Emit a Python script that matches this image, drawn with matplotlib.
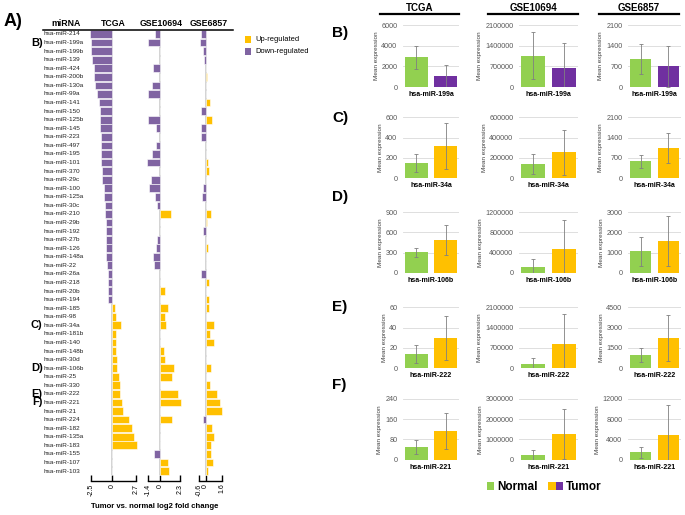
import matplotlib
matplotlib.use("Agg")
import matplotlib.pyplot as plt
from matplotlib.patches import Rectangle
from matplotlib.lines import Line2D
from matplotlib.transforms import blended_transform_factory

plt.rcParams["font.family"] = ["Liberation Sans", "DejaVu Sans"]

# ---- panel A: log2 fold changes ----
MIRNAS = ["hsa-miR-214", "hsa-miR-199a", "hsa-miR-199b", "hsa-miR-139", "hsa-miR-424",
          "hsa-miR-200b", "hsa-miR-130a", "hsa-miR-99a", "hsa-miR-141", "hsa-miR-150",
          "hsa-miR-125b", "hsa-miR-145", "hsa-miR-223", "hsa-miR-497", "hsa-miR-195",
          "hsa-miR-101", "hsa-miR-370", "hsa-miR-29c", "hsa-miR-100", "hsa-miR-125a",
          "hsa-miR-30c", "hsa-miR-210", "hsa-miR-29b", "hsa-miR-192", "hsa-miR-27b",
          "hsa-miR-126", "hsa-miR-148a", "hsa-miR-22", "hsa-miR-26a", "hsa-miR-218",
          "hsa-miR-20b", "hsa-miR-194", "hsa-miR-185", "hsa-miR-98", "hsa-miR-34a",
          "hsa-miR-181b", "hsa-miR-140", "hsa-miR-148b", "hsa-miR-30d", "hsa-miR-106b",
          "hsa-miR-25", "hsa-miR-330", "hsa-miR-222", "hsa-miR-221", "hsa-miR-21",
          "hsa-miR-224", "hsa-miR-182", "hsa-miR-135a", "hsa-miR-183", "hsa-miR-155",
          "hsa-miR-107", "hsa-miR-103"]

TCGA_FC = [-2.55, -2.43, -2.43, -2.32, -2.16, -2.09, -2.05, -1.82, -1.59, -1.41,
           -1.41, -1.41, -1.37, -1.33, -1.33, -1.30, -1.26, -1.18, -0.95, -0.92,
           -0.88, -0.84, -0.76, -0.72, -0.72, -0.72, -0.72, -0.65, -0.57, -0.57,
           -0.57, -0.50, 0.30, 0.37, 0.94, 0.37, 0.41, 0.41, 0.49, 0.57,
           0.72, 0.83, 0.91, 1.14, 1.25, 1.93, 2.27, 2.50, 2.76, 0.0,
           0.0, 0.0]
GSE10694_FC = [-0.57, -1.38, 0.0, 0.0, -0.77, 0.0, -0.95, -1.38, 0.0, 0.0,
               -1.38, -0.46, 0.0, -0.50, -0.95, -1.49, 0.0, -1.07, -1.26, -0.54,
               -0.38, 1.23, 0.0, 0.0, -0.31, -0.42, -0.77, -0.69, 0.0, 0.0,
               0.57, 0.0, 0.92, 0.57, 0.69, 0.0, 0.0, 0.42, 0.54, 1.65,
               1.42, 0.0, 2.10, 2.38, 0.0, 1.38, 0.0, 0.0, 0.0, -0.69,
               0.92, 1.03]
GSE6857_FC = [-0.45, -0.56, -0.26, -0.15, 0.0, 0.11, 0.0, 0.0, 0.45, -0.45,
              0.60, -0.45, -0.45, 0.0, 0.0, 0.26, 0.34, 0.0, -0.26, -0.37,
              0.0, 0.48, 0.15, -0.26, 0.0, 0.22, 0.0, 0.0, -0.41, 0.34,
              0.0, 0.34, 0.34, 0.0, 0.79, 0.41, 0.79, 0.0, 0.0, 0.48,
              0.0, 0.41, 1.05, 1.35, 1.60, -0.22, 0.64, 0.79, 0.48, 0.48,
              0.71, 0.22]
DATASETS = ["TCGA", "GSE10694", "GSE6857"]
FC_LIMITS = [(-2.5, 2.7), (-1.4, 2.3), (-0.6, 1.6)]
FC_TICKLABELS = [["-2.5", "0", "2.7"], ["-1.4", "0", "2.3"], ["-0.6", "0", "1.6"]]

# ---- panels B-F: mean expression ----
PANEL_LETTERS = ["B)", "C)", "D)", "E)", "F)"]
PANEL_MIRNAS = ["hsa-miR-199a", "hsa-miR-34a", "hsa-miR-106b", "hsa-miR-222", "hsa-miR-221"]
NORMAL_MEAN = [[2856, 1056000, 955], [151, 141000, 588], [303, 119000, 1066],
               [14.1, 149000, 984], [48.5, 213000, 1508]]
NORMAL_SD = [[1120, 790000, 516], [85, 102000, 220], [67, 160000, 720],
             [8.7, 195000, 550], [28, 260000, 1080]]
TUMOR_MEAN = [[1027, 640000, 696], [318, 256000, 1038], [487, 477000, 1574],
              [29.8, 826000, 2238], [114, 1260000, 4918]]
TUMOR_SD = [[1090, 840000, 696], [222, 220000, 514], [228, 565000, 1240],
            [21.3, 1030000, 1700], [71, 1250000, 5900]]
Y_MAX = [[6000, 2100000, 2100], [600, 600000, 2100], [900, 1200000, 3000],
         [60, 2100000, 4500], [240, 3000000, 12000]]
Y_STEP = [[2000, 700000, 700], [200, 200000, 700], [300, 400000, 1000],
          [20, 700000, 1500], [80, 1000000, 4000]]

UP = "#FFC000"
DOWN = "#8064A2"
DOWN_DARK = "#7030A0"
GREEN = "#92D050"

W, H = 685, 515
fig = plt.figure(figsize=(W / 100, H / 100), dpi=100)


def add_ax(x0, y0, x1, y1):
    return fig.add_axes([x0 / W, 1 - y1 / H, (x1 - x0) / W, (y1 - y0) / H])


def fig_line(x0, x1, y, lw):
    fig.add_artist(Line2D([x0 / W, x1 / W], [1 - y / H, 1 - y / H],
                          color="black", lw=lw, transform=fig.transFigure))


def fig_box(x0, y0, x1, y1, color):
    fig.add_artist(Rectangle((x0 / W, 1 - y1 / H), (x1 - x0) / W, (y1 - y0) / H,
                             color=color, transform=fig.transFigure, lw=0))


# ---------------- panel A ----------------
fc_boxes = [(90.7, 136), (147.7, 180), (199.3, 222.3)]
rows = list(range(len(MIRNAS)))
axes_a = []
for vals, lim, tl, (x0, x1) in zip([TCGA_FC, GSE10694_FC, GSE6857_FC],
                                   FC_LIMITS, FC_TICKLABELS, fc_boxes):
    ax = add_ax(x0, 29.7, x1, 475.3)
    for s in ["top", "right", "left"]:
        ax.spines[s].set_visible(False)
    ax.spines["bottom"].set_position(("outward", 4))
    ax.spines["bottom"].set_linewidth(1)
    cols = [UP if v > 0 else DOWN for v in vals]
    ax.barh(rows, vals, height=0.9, color=cols, edgecolor="white",
            linewidth=0.4, clip_on=False, zorder=2)
    ax.axvline(0, color="#C8C8C8", lw=1.1, zorder=1)
    ax.set_xlim(lim)
    ax.set_ylim(len(MIRNAS) - 0.5, -0.5)
    ax.set_xticks([lim[0], 0, lim[1]])
    ax.set_xticklabels(tl)
    ax.tick_params(axis="x", direction="in", length=4, width=1, pad=2,
                   labelrotation=90, labelsize=5)
    ax.set_yticks([])
    ax.patch.set_alpha(0)
    axes_a.append(ax)

trans = blended_transform_factory(fig.transFigure, axes_a[0].transData)
for i, name in enumerate(MIRNAS):
    axes_a[0].text(44 / W, i, name, transform=trans, ha="left", va="center",
                   fontsize=4.6, color="#222222")
for letter, name in zip(PANEL_LETTERS, PANEL_MIRNAS):
    axes_a[0].text(42.5 / W, MIRNAS.index(name), letter, transform=trans,
                   ha="right", va="center", fontsize=8, fontweight="bold")

fig.text(4 / W, 1 - 22 / H, "A)", fontsize=13, fontweight="bold", va="center")
for txt, xc in zip(["miRNA"] + DATASETS, [66, 113, 161, 209]):
    fig.text(xc / W, 1 - 24 / H, txt, fontsize=6.3, fontweight="bold",
             ha="center", va="center")
fig_line(43, 233, 29.5, 1.1)

fig_box(245, 36, 251, 42.5, UP)
fig_box(245, 48, 251, 54.5, DOWN)
fig.text(255 / W, 1 - 39.5 / H, "Up-regulated", fontsize=5.4, va="center")
fig.text(255 / W, 1 - 51.5 / H, "Down-regulated", fontsize=5.4, va="center")

fig.text(155 / W, 1 - 507 / H, "Tumor vs. normal log2 fold change",
         fontsize=5.6, fontweight="bold", ha="center", va="center")

# ---------------- panels B-F ----------------
col_box = [(403, 459), (519, 578), (628, 681)]
row_box = [(25, 87), (117.3, 178.3), (212.3, 272.7), (307.3, 368.3), (398.7, 459.7)]
letter_y = [33, 118, 197, 307, 385]

for r in range(len(PANEL_MIRNAS)):
    tumor_col = DOWN_DARK if TUMOR_MEAN[r][0] < NORMAL_MEAN[r][0] else UP
    for c in range(len(DATASETS)):
        x0, x1 = col_box[c]
        y0, y1 = row_box[r]
        ax = add_ax(x0, y0, x1, y1)
        means = [NORMAL_MEAN[r][c], TUMOR_MEAN[r][c]]
        sds = [NORMAL_SD[r][c], TUMOR_SD[r][c]]
        ax.bar([0, 1], means, width=0.77, color=[GREEN, tumor_col], zorder=2)
        ax.errorbar([0, 1], means, yerr=sds, fmt="none", ecolor="#808080",
                    elinewidth=0.6, capsize=1.3, capthick=0.6, zorder=3)
        ax.set_xlim(-0.45, 1.45)
        ymax = Y_MAX[r][c]
        step = Y_STEP[r][c]
        ticks = [k * step for k in range(int(round(ymax / step)) + 1)]
        ax.set_ylim(0, ymax)
        ax.set_yticks(ticks)
        ax.set_yticklabels([str(int(t)) for t in ticks], fontsize=5.2, color="#595959")
        ax.yaxis.grid(True, color="#D9D9D9", lw=0.6)
        ax.set_axisbelow(True)
        ax.set_xticks([0.5])
        ax.set_xticklabels([PANEL_MIRNAS[r]], fontsize=5, fontweight="bold")
        ax.tick_params(axis="both", length=0)
        ax.tick_params(axis="y", pad=4)
        ax.tick_params(axis="x", pad=3)
        ax.set_ylabel("Mean expression", fontsize=4.6, color="#404040", labelpad=2)
        for s in ax.spines.values():
            s.set_visible(False)
        ax.patch.set_alpha(0)
    fig.text(332 / W, 1 - letter_y[r] / H, PANEL_LETTERS[r], fontsize=11,
             fontweight="bold", va="center")

head_lines = [(380, 459), (488, 578), (599, 679)]
for txt, (hx0, hx1) in zip(DATASETS, head_lines):
    fig.text((hx0 + hx1) / 2 / W, 1 - 8 / H, txt, fontsize=7, fontweight="bold",
             ha="center", va="center")
    fig_line(hx0, hx1, 14.5, 1.6)

# legend
fig_box(487, 482, 494, 490, GREEN)
fig.text(497 / W, 1 - 486.5 / H, "Normal", fontsize=8.5, fontweight="bold", va="center")
fig_box(548, 482, 556, 490, UP)
fig_box(556, 482, 563, 490, DOWN_DARK)
fig.text(566 / W, 1 - 486.5 / H, "Tumor", fontsize=8.5, fontweight="bold", va="center")

fig.savefig("out.png", dpi=100)
